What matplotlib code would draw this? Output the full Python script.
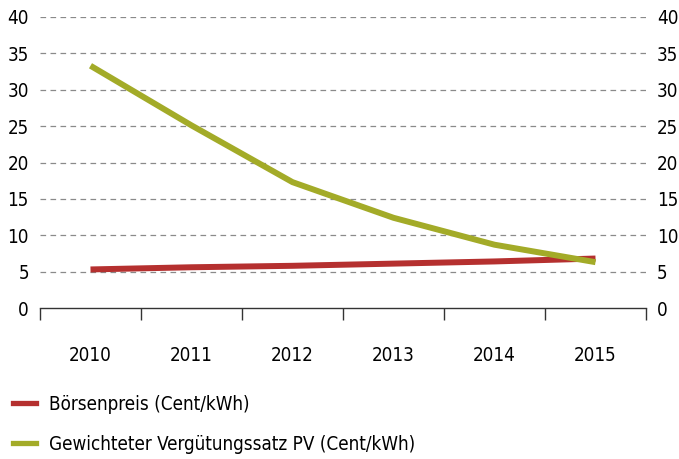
import matplotlib
matplotlib.use("Agg")
import matplotlib.pyplot as plt
from matplotlib.lines import Line2D

years = ["2010", "2011", "2012", "2013", "2014", "2015"]
boersenpreis = [5.3, 5.6, 5.8, 6.1, 6.4, 6.8]
verguetung = [33.3, 25.1, 17.3, 12.4, 8.7, 6.3]
yticks = [0, 5, 10, 15, 20, 25, 30, 35, 40]
label_red = "Börsenpreis (Cent/kWh)"
label_green = "Gewichteter Vergütungssatz PV (Cent/kWh)"

RED = "#b5302f"
GREEN = "#a3ab28"
plt.rcParams["font.family"] = ["DejaVu Sans"]
plt.rcParams["font.stretch"] = "condensed"
FS = 13.5

fig = plt.figure(figsize=(6.79, 4.59), dpi=100)
ax = fig.add_axes([40/679, 1-308/459, 606/679, 291/459])

x = list(range(len(years)))
ax.plot(x, boersenpreis, color=RED, lw=4.3, solid_capstyle="butt", zorder=3)
ax.plot(x, verguetung, color=GREEN, lw=4.3, solid_capstyle="butt", zorder=4)

ax.set_xlim(-0.5, len(years) - 0.5)
ax.set_ylim(0, 40)
ax.set_yticks(yticks)
for y in yticks[1:]:
    ax.axhline(y, color="#8a8a8a", lw=0.9, ls=(0, (4.5, 3.5)), zorder=1)

for s in ["top", "left", "right"]:
    ax.spines[s].set_visible(False)
ax.spines["bottom"].set_color("#333333")
ax.spines["bottom"].set_linewidth(1.0)

ax.set_xticks(x)
ax.set_xticklabels(years, fontsize=FS)
ax.set_xticks([i - 0.5 for i in range(len(years) + 1)], minor=True)
ax.tick_params(axis="x", which="major", length=0, pad=27.5)
ax.tick_params(axis="x", which="minor", length=8.6, width=1.0, color="#333333", direction="out")
ax.tick_params(axis="y", which="both", length=0, labelsize=FS, pad=8,
               labelleft=True, labelright=True)

handles = [Line2D([], [], color=RED, lw=3.8), Line2D([], [], color=GREEN, lw=3.8)]
fig.legend(handles, [label_red, label_green], loc="upper left",
           bbox_to_anchor=(5/679, 1-387/459), frameon=False, fontsize=FS,
           handlelength=1.25, handletextpad=0.7, labelspacing=1.12, borderaxespad=0)

fig.savefig("out.png", dpi=100)
